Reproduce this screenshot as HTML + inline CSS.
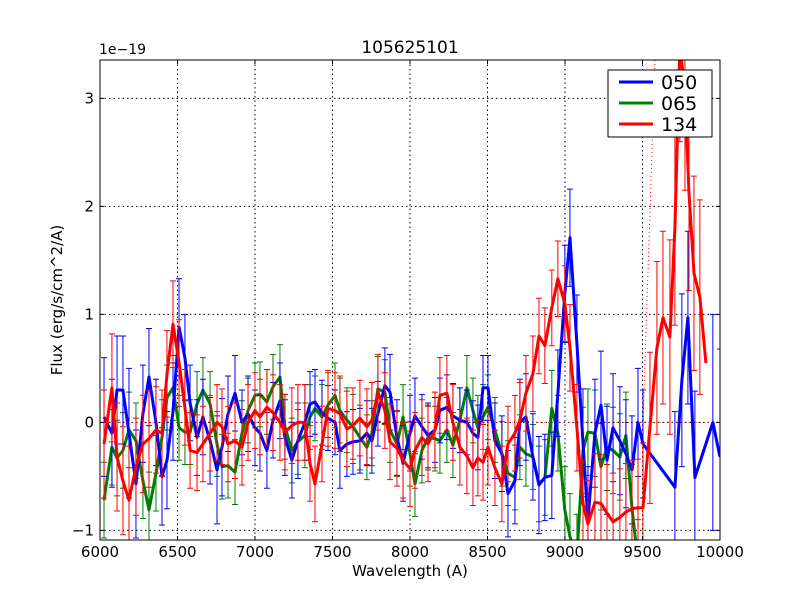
<!DOCTYPE html>
<html><head><meta charset="utf-8">
<style>
html,body{margin:0;padding:0;background:#fff;}
svg{display:block;font-family:"DejaVu Sans","Liberation Sans",sans-serif;}
</style></head>
<body>
<svg id="chart" width="800" height="600" xmlns="http://www.w3.org/2000/svg">
<rect x="0" y="0" width="800" height="600" fill="#fff"/>
<defs><clipPath id="clip"><rect x="100" y="60" width="620" height="480"/></clipPath></defs>
<g id="grid"></g>
<g id="plot" clip-path="url(#clip)"></g>
<rect x="100" y="60" width="620" height="480" fill="none" stroke="#000" stroke-width="1"/>
<g id="ticks"></g>
<text x="410" y="53" font-size="17" text-anchor="middle">105625101</text>
<text x="99" y="54" font-size="14">1e−19</text>
<text x="410" y="576" font-size="15" text-anchor="middle">Wavelength (A)</text>
<text x="62" y="300" font-size="15" text-anchor="middle" transform="rotate(-90 62 300)">Flux (erg/s/cm^2/A)</text>
<g>
<rect x="608" y="70" width="104" height="67" fill="#fff" stroke="#000"/>
<line x1="619" y1="82" x2="653" y2="82" stroke="#0000ff" stroke-width="3"/>
<text x="661" y="89" font-size="19">050</text>
<line x1="619" y1="103" x2="653" y2="103" stroke="#008000" stroke-width="3"/>
<text x="661" y="110" font-size="19">065</text>
<line x1="619" y1="124" x2="653" y2="124" stroke="#ff0000" stroke-width="3"/>
<text x="661" y="131" font-size="19">134</text>
</g>
</svg>
<script>
const G = [6026,6077,6110,6148,6187,6232,6277,6316,6361,6400,6432,6471,6510,6548,6581,6626,6664,6710,6755,6787,6826,6871,6916,6955,7000,7032,7077,7116,7161,7193,7238,7277,7322,7355,7387,7432,7471,7516,7548,7593,7632,7677,7722,7754,7793,7838,7871,7916,7955,8000,8032,8077,8116,8161,8193,8238,8277,8322,8367,8406,8438,8471,8503,8548,8593,8632,8677,8709,8748,8793,8832,8870,8915,8954,8999,9032,9077,9116,9148,9193,9232,9271,9310,9354,9393,9432,9471,9503];
const blueTailX = [9709,9754,9793,9838,9954,10000];
const redTailX = [9548,9593,9632,9677,9709,9741,9774,9800,9832,9870,9909];
const blueX = G.concat(blueTailX);
const greenX = G.slice(0,87);
const redX = G.concat(redTailX);
const blueY = [0.05,-0.1,0.3,0.3,-0.1,-0.57,0.08,0.42,0,-0.5,-0.35,0.1,0.88,0.6,0.18,-0.14,0.05,-0.17,-0.44,-0.23,0.08,0.27,0,0.08,-0.05,-0.1,-0.26,0.02,0.2,-0.14,-0.35,-0.17,0,0.17,
0.19,0.09,0.04,0,-0.26,-0.2,-0.18,-0.17,-0.1,-0.17,0.08,0.34,0.28,-0.14,-0.38,-0.1,0.06,-0.04,-0.12,-0.07,0.11,0.14,0.06,0.02,0,-0.1,-0.14,0.32,0.32,-0.17,-0.29,-0.66,-0.54,
0,0.05,-0.32,-0.58,-0.51,-0.49,0.27,1.19,1.71,0.73,-0.19,-0.91,-0.1,0.16,-0.35,-0.05,-0.17,-0.29,-0.44,0,-0.2,
-0.6,0.39,0.97,-0.51,0,-0.32];
const greenY = [-0.72,-0.23,-0.33,-0.26,-0.07,-0.17,-0.54,-0.81,-0.47,-0.14,0.23,0.32,-0.05,-0.09,-0.09,0.17,0.3,0.17,-0.2,-0.41,-0.4,-0.46,-0.1,0.11,0.25,0.26,0.19,0.33,0.42,-0.04,-0.26,-0.18,-0.12,0.05,
0.13,0.05,0.16,0.25,0.11,0.02,-0.04,-0.14,-0.23,-0.1,0.31,0.28,-0.07,-0.2,0.05,-0.29,-0.57,-0.26,-0.14,-0.15,-0.17,-0.07,-0.21,0.02,0.32,0.11,-0.05,0.05,0.14,-0.07,-0.29,-0.47,-0.51,
-0.23,-0.29,-0.32,-0.57,-0.51,0.13,-0.1,-0.81,-1.06,-1.25,-0.26,-0.09,-0.1,-0.41,-0.23,-0.26,-0.32,-0.12,-0.79,-1.3];
const redY = [-0.2,0.32,-0.32,-0.54,-0.72,-0.41,-0.2,-0.15,-0.07,-0.1,0.45,0.91,0.55,0.14,-0.26,-0.28,-0.2,-0.1,0,-0.04,-0.2,-0.17,-0.23,0,0.11,0.05,0.14,0.09,0,-0.09,-0.03,0,0,-0.38,
-0.57,-0.2,0.13,0.11,0.08,-0.06,-0.03,0.04,-0.04,0.02,0.28,0.11,-0.18,-0.24,-0.35,-0.43,-0.26,-0.14,-0.2,-0.07,0.25,0.27,0,-0.23,-0.31,-0.42,-0.33,-0.37,-0.23,-0.42,-0.57,-0.2,-0.1,0.02,
0.27,0.45,0.8,0.71,1.06,1.33,1.1,0.69,-0.05,-0.75,-0.94,-0.74,-0.75,-0.84,-0.92,-0.88,-0.83,-0.8,-0.79,-0.79,
-0.05,0.69,0.97,0.79,1.8,3.5,3.05,2.12,1.38,1.16,0.55];
const blueErr = [0.55,0.5,0.5,0.5,0.6,0.5,0.45,0.45,0.4,0.45,0.45,0.45,0.45,0.4,0.35,0.35,0.35,0.4,0.5,0.45,0.35,0.35,0.3,0.35,0.35,0.35,0.35,0.35,0.35,0.35,0.35,0.35,0.35,0.3,
0.3,0.3,0.3,0.3,0.35,0.3,0.3,0.3,0.3,0.3,0.3,0.35,0.35,0.35,0.35,0.35,0.35,0.3,0.3,0.3,0.3,0.3,0.3,0.3,0.3,0.3,0.3,0.3,0.3,0.35,0.35,0.4,0.4,
0.4,0.4,0.4,0.45,0.4,0.4,0.4,0.45,0.45,0.45,0.5,0.5,0.5,0.5,0.5,0.5,0.5,0.5,0.5,0.5,0.5,
0.7,0.8,0.8,0.8,1.0,1.0];
const greenErr = [0.35,0.35,0.35,0.35,0.35,0.35,0.35,0.35,0.35,0.35,0.3,0.3,0.3,0.3,0.3,0.3,0.3,0.3,0.3,0.3,0.3,0.3,0.3,0.3,0.3,0.3,0.3,0.3,0.3,0.3,0.3,0.3,0.3,0.3,
0.3,0.3,0.3,0.3,0.3,0.3,0.3,0.3,0.3,0.3,0.3,0.3,0.3,0.3,0.3,0.3,0.3,0.3,0.3,0.3,0.3,0.3,0.3,0.3,0.3,0.3,0.3,0.3,0.3,0.3,0.3,0.3,0.3,
0.3,0.3,0.3,0.35,0.35,0.35,0.35,0.4,0.4,0.4,0.4,0.4,0.4,0.4,0.4,0.4,0.4,0.4,0.4,0.4];
const redErr = [0.5,0.5,0.5,0.5,0.5,0.45,0.45,0.45,0.4,0.4,0.4,0.4,0.4,0.35,0.35,0.35,0.35,0.35,0.35,0.35,0.35,0.35,0.35,0.35,0.35,0.35,0.35,0.35,0.35,0.35,0.35,0.35,0.35,0.35,
0.35,0.35,0.35,0.35,0.35,0.35,0.35,0.35,0.35,0.35,0.35,0.35,0.35,0.35,0.35,0.35,0.35,0.35,0.35,0.35,0.35,0.35,0.35,0.35,0.35,0.35,0.35,0.35,0.35,0.35,0.35,0.35,0.35,
0.35,0.35,0.35,0.35,0.35,0.35,0.35,0.35,0.4,0.4,0.4,0.4,0.45,0.45,0.45,0.45,0.45,0.45,0.45,0.45,
0.6,0.7,0.8,0.8,0.9,0.9,0.9,0.9,0.9,0.9,0.9];
const xTicks = [6000,6500,7000,7500,8000,8500,9000,9500,10000];
const yTicks = [-1,0,1,2,3];

const NS = "http://www.w3.org/2000/svg";
const X0=100, X1=720, Y0=540, Y1=60, XMIN=6000, XMAX=10000, YMIN=-1.0889, YMAX=3.3556;
function sx(v){return X0+(v-XMIN)/(XMAX-XMIN)*(X1-X0);}
function sy(v){return Y0-(v-YMIN)/(YMAX-YMIN)*(Y0-Y1);}
function mk(tag, attrs, parent){const e=document.createElementNS(NS,tag);for(const k in attrs)e.setAttribute(k,attrs[k]);parent.appendChild(e);return e;}
const grid=document.getElementById('grid'), plot=document.getElementById('plot'), ticks=document.getElementById('ticks');

xTicks.forEach(t=>{
  const x=sx(t);
  if(t>XMIN&&t<XMAX){
    const g=mk('line',{x1:x,y1:Y1,x2:x,y2:Y0,stroke:'#000','stroke-dasharray':'1.5,3'},grid);
    
    
  }
  const a=mk('line',{x1:x,y1:Y0,x2:x,y2:Y0-4,stroke:'#000'},ticks);
  
  
  const b=mk('line',{x1:x,y1:Y1,x2:x,y2:Y1+4,stroke:'#000'},ticks);
  
  
  const l=mk('text',{x:x,y:Y0+17,'font-size':15,'text-anchor':'middle'},ticks);
  l.textContent=t;
  
  
});
yTicks.forEach(t=>{
  const y=sy(t);
  const g=mk('line',{x1:X0,y1:y,x2:X1,y2:y,stroke:'#000','stroke-dasharray':'1.5,3'},grid);
  
  
  const a=mk('line',{x1:X0,y1:y,x2:X0+4,y2:y,stroke:'#000'},ticks);
  
  
  const b=mk('line',{x1:X1,y1:y,x2:X1-4,y2:y,stroke:'#000'},ticks);
  
  
  const l=mk('text',{x:X0-6,y:y+5,'font-size':15,'text-anchor':'end'},ticks);
  l.textContent=(t<0?'−':'')+Math.abs(t);
  
  
});

const z=mk('line',{x1:X0,y1:sy(0),x2:X1,y2:sy(0),stroke:'#ff0000','stroke-dasharray':'1,3','stroke-opacity':0.6},plot);


const vr=mk('line',{x1:655,y1:Y1,x2:643,y2:sy(0),stroke:'#ff0000','stroke-dasharray':'1,3'},plot);



function series(xs, ys, es, color, name){
  const g=mk('g',{},plot);
  
  
  for(let i=0;i<ys.length;i++){
    const x=sx(xs[i]), ya=sy(ys[i]+es[i]), yb=sy(ys[i]-es[i]);
    const e=mk('path',{d:`M${x},${ya}V${yb}M${x-3},${ya}h6M${x-3},${yb}h6`,stroke:color,'stroke-width':1,fill:'none'},g);
    
    
  }
  const d=ys.map((v,i)=>(i?'L':'M')+sx(xs[i]).toFixed(1)+','+sy(v).toFixed(1)).join('');
  const p=mk('path',{d:d,stroke:color,'stroke-width':3,fill:'none','stroke-linejoin':'round'},g);
  
  
}
series(greenX, greenY, greenErr, '#008000', '065');
series(blueX, blueY, blueErr, '#0000ff', '050');
series(redX, redY, redErr, '#ff0000', '134');
</script>
</body></html>
